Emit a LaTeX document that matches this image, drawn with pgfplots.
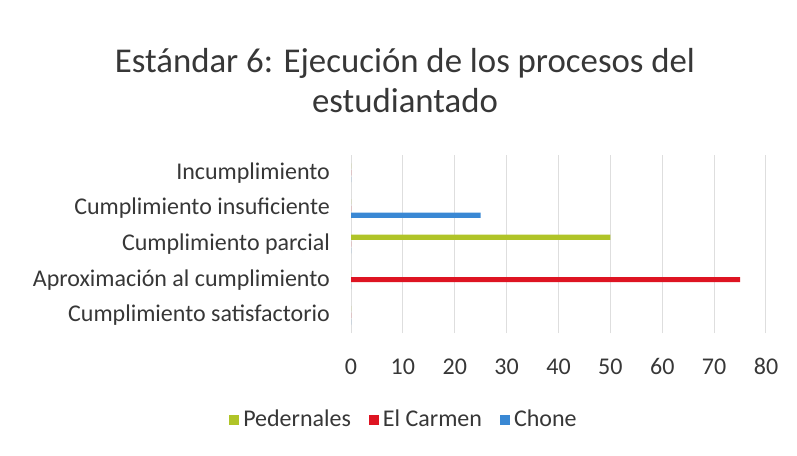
\documentclass[border=0pt]{standalone}
\usepackage{fontspec}
\setmainfont{Carlito}
\usepackage{pgfplots}
\pgfplotsset{compat=1.18}
\definecolor{cPed}{RGB}{176,196,40}
\definecolor{cCar}{RGB}{222,20,34}
\definecolor{cCho}{RGB}{58,136,212}
\definecolor{cGrid}{RGB}{222,222,222}
\definecolor{cTxt}{RGB}{55,55,55}
\begin{document}
\begin{tikzpicture}
\path[use as bounding box] (0,0) rectangle (398.5pt,227.5pt);
\node[font=\fontsize{17.4}{21}\selectfont, text=cTxt] at (202.5pt,196pt) {Estándar 6: Ejecución de los procesos del};
\node[font=\fontsize{17.4}{21}\selectfont, text=cTxt] at (202.5pt,177pt) {estudiantado};
\begin{axis}[
  at={(175.5pt,61pt)}, anchor=south west,
  scale only axis, width=207.5pt, height=89pt,
  xmin=0, xmax=80, ymin=-0.5, ymax=4.5,
  xtick={0,10,...,80},
  ytick={0,1,2,3,4},
  yticklabels={Cumplimiento satisfactorio, Aproximación al cumplimiento, Cumplimiento parcial, Cumplimiento insuficiente, Incumplimiento},
  axis line style={draw=none},
  tick style={draw=none},
  xmajorgrids, major grid style={cGrid, line width=0.5pt},
  ticklabel style={font=\fontsize{12}{14}\selectfont, text=cTxt},
  /pgf/number format/assume math mode=true,
  xticklabel style={text height=8pt, text depth=0pt, yshift=-9pt},
  yticklabel style={xshift=-7pt},
  legend style={at={(0.13,-0.489)}, anchor=center, draw=none, font=\fontsize{12}{14}\selectfont, text=cTxt, legend columns=3, /tikz/every even column/.append style={column sep=7pt}},
]
\addplot[xbar, bar width=2.6pt, draw=none, fill=cPed, bar shift=3.4pt, forget plot] coordinates {(0,0) (0,1) (50,2) (0,3) (0,4)};
\addplot[xbar, bar width=2.6pt, draw=none, fill=cCar, bar shift=0pt, forget plot] coordinates {(0,0) (75,1) (0,2) (0,3) (0,4)};
\addplot[xbar, bar width=2.6pt, draw=none, fill=cCho, bar shift=-3.4pt, forget plot] coordinates {(0,0) (0,1) (0,2) (25,3) (0,4)};
\addlegendimage{legend image code/.code={\node[fill=cPed, inner sep=0pt, minimum size=5pt] at (2.5pt,0pt) {};}}
\addlegendimage{legend image code/.code={\node[fill=cCar, inner sep=0pt, minimum size=5pt] at (2.5pt,0pt) {};}}
\addlegendimage{legend image code/.code={\node[fill=cCho, inner sep=0pt, minimum size=5pt] at (2.5pt,0pt) {};}}
\legend{Pedernales, El Carmen, Chone}
\end{axis}
\end{tikzpicture}
\end{document}
